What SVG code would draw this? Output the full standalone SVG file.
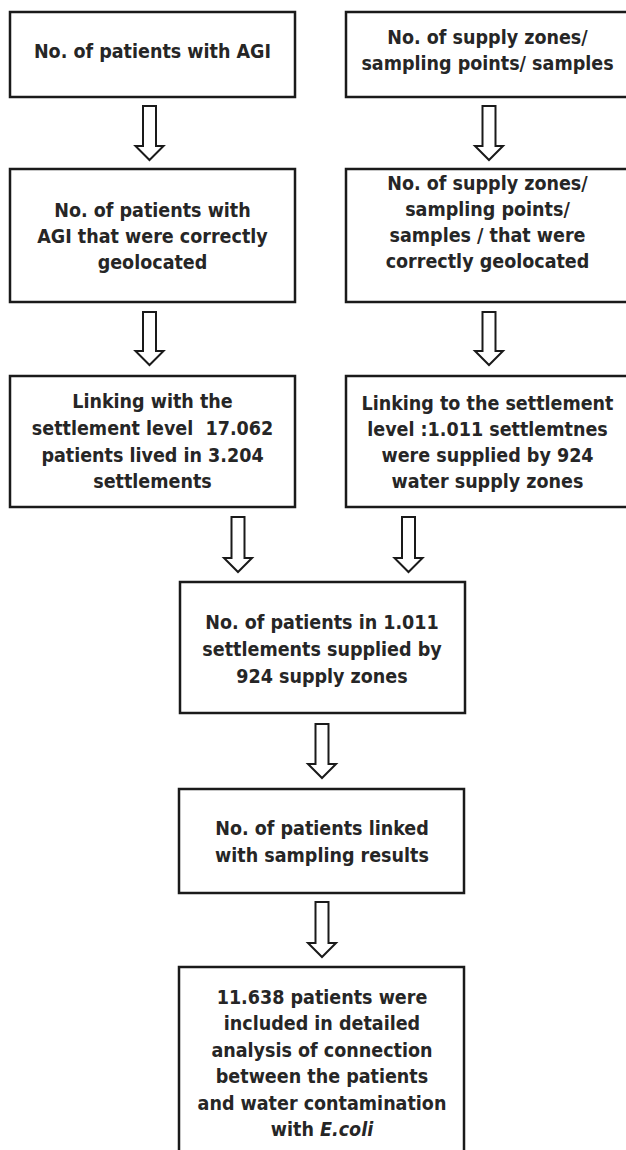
<svg xmlns="http://www.w3.org/2000/svg" width="626" height="1150" viewBox="0 0 626 1150">
<style>
.box{fill:#fff;stroke:#1a1a1a;stroke-width:2.5}
.arr{fill:#fff;stroke:#1a1a1a;stroke-width:2;stroke-linejoin:miter}
text{font-family:"DejaVu Sans Condensed","DejaVu Sans",sans-serif;font-stretch:condensed;font-weight:bold;font-size:19.5px;fill:#262626;text-anchor:middle}
</style>
<rect width="626" height="1150" fill="#fff"/>
<g id="connectors">
<path class="arr" d="M143,106H156V146H163.5L149.5,160L135.5,146H143Z"/>
<path class="arr" d="M482.5,106H495.5V146H503L489,160L475,146H482.5Z"/>
<path class="arr" d="M143,312H156V351H163.5L149.5,365L135.5,351H143Z"/>
<path class="arr" d="M482.5,312H495.5V351H503L489,365L475,351H482.5Z"/>
<path class="arr" d="M231.5,517H244.5V558H252L238,572L224,558H231.5Z"/>
<path class="arr" d="M402,517H415V558H422.5L408.5,572L394.5,558H402Z"/>
<path class="arr" d="M315.5,724H328.5V764H336L322,778L308,764H315.5Z"/>
<path class="arr" d="M315.5,902H328.5V943H336L322,957L308,943H315.5Z"/>
</g>
<g id="n1">
<rect class="box" x="10" y="12" width="285" height="85"/>
<text x="152.5" y="58">No. of patients with AGI</text>
</g>
<g id="n2">
<rect class="box" x="346" y="12" width="284" height="85"/>
<text x="487.5" y="44">No. of supply zones/</text>
<text x="487.5" y="70">sampling points/ samples</text>
</g>
<g id="n3">
<rect class="box" x="10" y="169" width="285" height="133"/>
<text x="152.5" y="217">No. of patients with</text>
<text x="152.5" y="243">AGI that were correctly</text>
<text x="152.5" y="269">geolocated</text>
</g>
<g id="n4">
<rect class="box" x="346" y="169" width="284" height="133"/>
<text x="487.5" y="190">No. of supply zones/</text>
<text x="487.5" y="216">sampling points/</text>
<text x="487.5" y="242">samples / that were</text>
<text x="487.5" y="268">correctly geolocated</text>
</g>
<g id="n5">
<rect class="box" x="10" y="376" width="285" height="131"/>
<text x="152.5" y="408">Linking with the</text>
<text x="152.5" y="435" xml:space="preserve">settlement level  17.062</text>
<text x="152.5" y="462">patients lived in 3.204</text>
<text x="152.5" y="488">settlements</text>
</g>
<g id="n6">
<rect class="box" x="346" y="376" width="284" height="131"/>
<text x="487.5" y="410">Linking to the settlement</text>
<text x="487.5" y="436">level :1.011 settlemtnes</text>
<text x="487.5" y="462">were supplied by 924</text>
<text x="487.5" y="488">water supply zones</text>
</g>
<g id="n7">
<rect class="box" x="180" y="582" width="285" height="131"/>
<text x="322" y="629">No. of patients in 1.011</text>
<text x="322" y="656">settlements supplied by</text>
<text x="322" y="683">924 supply zones</text>
</g>
<g id="n8">
<rect class="box" x="179" y="789" width="285" height="104"/>
<text x="322" y="835">No. of patients linked</text>
<text x="322" y="862">with sampling results</text>
</g>
<g id="n9">
<rect class="box" x="179" y="967" width="285" height="200"/>
<text x="322" y="1004">11.638 patients were</text>
<text x="322" y="1030">included in detailed</text>
<text x="322" y="1057">analysis of connection</text>
<text x="322" y="1083">between the patients</text>
<text x="322" y="1110">and water contamination</text>
<text x="322" y="1136">with <tspan font-style="italic">E.coli</tspan></text>
</g>
</svg>
